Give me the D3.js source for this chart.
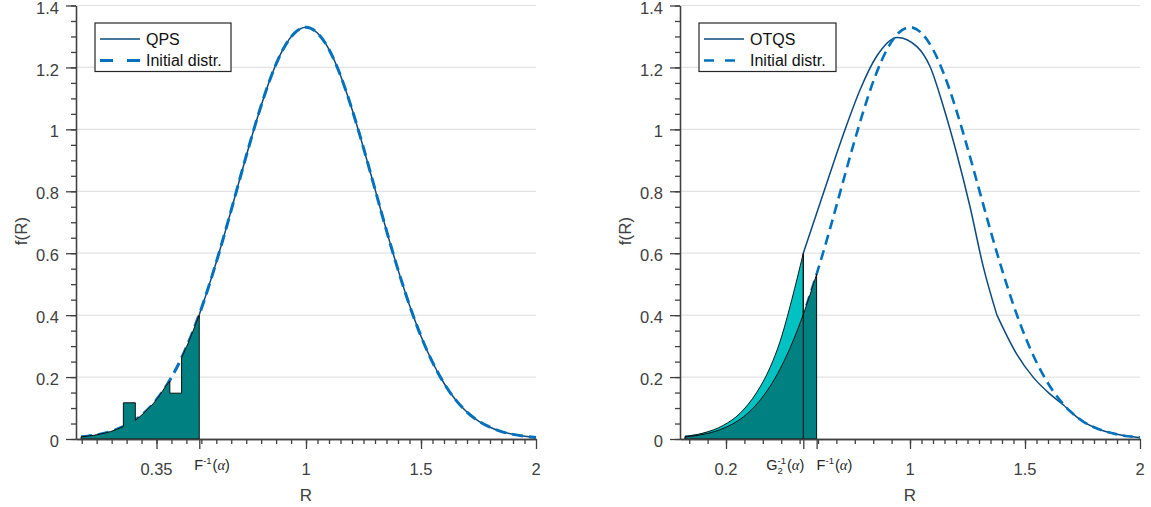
<!DOCTYPE html>
<html>
<head>
<meta charset="utf-8">
<script src="https://cdn.jsdelivr.net/npm/d3@7"></script>
<style>
body { margin: 0; background: #fff; }
svg { display: block; font-family: "Liberation Sans", Arial, Helvetica, sans-serif; }
</style>
</head>
<body>
<div id="chart"></div>
<script>
// initial distribution (dashed curve)
const initR = [0.022,0.05,0.1,0.15,0.2,0.25,0.3,0.35,0.4,0.45,0.5,0.55,0.6,0.65,0.7,0.75,0.8,0.85,0.9,0.95,
               1.0,1.05,1.1,1.15,1.2,1.25,1.3,1.35,1.4,1.45,1.5,1.55,1.6,1.65,1.7,1.75,1.8,1.85,1.9,1.95,2.0];
const initF = [0.007,0.009,0.015,0.024,0.038,0.058,0.087,0.127,0.180,0.248,0.332,0.432,0.547,0.673,0.807,0.940,1.065,1.174,1.258,1.311,
               1.330,1.311,1.258,1.174,1.065,0.940,0.807,0.673,0.547,0.432,0.332,0.248,0.180,0.127,0.087,0.058,0.038,0.024,0.015,0.009,0.005];

// QPS below F^-1(alpha); a repeated R means a vertical jump
const qpsR = [0.022,0.05,0.1,0.15,0.2,0.206, 0.206,0.258, 0.258,0.3,0.35,0.4,0.408, 0.408,0.459, 0.459,0.5,0.536];
const qpsF = [0.007,0.009,0.015,0.024,0.038,0.040, 0.117,0.117, 0.060,0.087,0.127,0.180,0.187, 0.148,0.148, 0.262,0.332,0.402];

// OTQS, left part (up to G2^-1) and right part
const otqsLeftR = [0.022,0.1,0.188,0.261,0.333,0.391,0.435,0.486,0.536];
const otqsLeftF = [0.008,0.019,0.044,0.083,0.150,0.230,0.315,0.450,0.600];
const otqsR = [0.536,0.623,0.717,0.783,0.855,0.945,1.029,1.087,1.145,1.203,1.261,1.319,1.378,
               1.378,1.464,1.536,1.609,1.667,1.7,1.75,1.8,1.85,1.9,1.95,2.0];
const otqsF = [0.600,0.793,0.998,1.128,1.236,1.297,1.268,1.203,1.074,0.922,0.750,0.555,0.400,
               0.400,0.274,0.199,0.145,0.110,0.087,0.058,0.038,0.024,0.015,0.009,0.005];

// quantile markers
const leftFinv = [0.536, 0.402];
const rightG2inv = [0.536, 0.600];
const rightFinv = [0.594, 0.532];

// ticks
const yMajor = [0,0.2,0.4,0.6,0.8,1,1.2,1.4];
const yMinor = d3.range(0, 1.401, 0.05);
const leftMajor = [0.35, 0.536, 1, 1.5, 2];
const leftLabels = ["0.35", "F", "1", "1.5", "2"];
const rightMajor = [0.2, 0.536, 0.594, 1, 1.5, 2];
const rightLabels = ["0.2", "G2", "F", "1", "1.5", "2"];
const leftMinor = [0.025,0.09,0.155,0.22,0.285,0.35,0.415,0.48,0.545,0.61,0.675,0.74,0.805,0.87,0.935,1.0].concat(d3.range(1.05,2.0,0.05));
const rightMinor = [0.04,0.12,0.2,0.28,0.36,0.44,0.52,0.6,0.68,0.76,0.84,0.92,1.0].concat(d3.range(1.05,2.0,0.05));

const darkTeal = "#008080", cyan = "#00c2c2";
const solidBlue = "#0a4a7d", dashBlue = "#0072bd";
const axisCol = "#404040";

const W = 1151, H = 507;
const svg = d3.select("#chart").append("svg").attr("width", W).attr("height", H);
svg.append("rect").attr("width", W).attr("height", H).attr("fill", "#fff");

const y = d3.scaleLinear().domain([0, 1.4]).range([439, 5.5]);

function pts(rs, fs) { return rs.map((r, i) => [r, fs[i]]); }
const initPts = pts(initR, initF);

// split into smooth pieces wherever R repeats
function smoothPath(points, x) {
  const segs = [[points[0]]];
  for (let i = 1; i < points.length; i++) {
    if (points[i][0] === points[i-1][0]) segs.push([points[i]]);
    else segs[segs.length-1].push(points[i]);
  }
  const line = d3.line().x(d => x(d[0])).y(d => y(d[1])).curve(d3.curveMonotoneX);
  return segs.map((s, i) => {
    const p = s.length > 1 ? line(s) : "M" + x(s[0][0]) + "," + y(s[0][1]);
    return i === 0 ? p : "L" + p.slice(1);
  }).join("");
}
function areaPath(points, x) {
  const a = points[0][0], b = points[points.length-1][0];
  return smoothPath(points, x) + "L" + x(b) + "," + y(0) + "L" + x(a) + "," + y(0) + "Z";
}

function texLabel(g, x0, base, kind) {
  const t = g.append("text").attr("x", x0).attr("y", base).attr("font-size", 14.5).attr("fill", "#262626");
  if (kind === "F") {
    t.append("tspan").text("F");
    t.append("tspan").attr("font-size", 9.5).attr("dy", -6).text("-1");
    t.append("tspan").attr("dy", 6).attr("dx", 1).text("(");
  } else {
    t.append("tspan").text("G");
    t.append("tspan").attr("font-size", 9.5).attr("dy", -6).text("-1");
    t.append("tspan").attr("font-size", 9.5).attr("dy", 10).attr("dx", -8.4).text("2");
    t.append("tspan").attr("dy", -4).attr("dx", 4).text("(");
  }
  t.append("tspan").attr("font-family", "'Liberation Serif','DejaVu Serif',serif").attr("font-style", "italic").text("α");
  t.append("tspan").text(")");
}

function panel(o) {
  const g = svg.append("g");
  const x = d3.scaleLinear().domain([0, 2]).range([o.x0, o.x0 + 460]);

  g.selectAll(".grid").data(yMajor.slice(1)).join("line")
    .attr("x1", o.x0).attr("x2", o.x0 + 460)
    .attr("y1", d => y(d)).attr("y2", d => y(d))
    .attr("stroke", "#e3e3e3").attr("stroke-width", 1.2);

  g.append("path").attr("d", smoothPath(o.solid, x))
    .attr("fill", "none").attr("stroke", solidBlue).attr("stroke-width", 1.5);
  g.append("path").attr("d", smoothPath(initPts, x))
    .attr("fill", "none").attr("stroke", dashBlue).attr("stroke-width", o.dashW)
    .attr("stroke-dasharray", o.dash);

  o.fills.forEach(f => {
    g.append("path").attr("d", areaPath(f.points, x))
      .attr("fill", f.color).attr("stroke", "#000").attr("stroke-width", 0.9);
  });
  o.vlines.forEach(v => {
    g.append("line").attr("x1", x(v[0])).attr("x2", x(v[0]))
      .attr("y1", y(0)).attr("y2", y(v[1])).attr("stroke", "#000").attr("stroke-width", 0.9);
  });

  // axes
  const xa = g.append("g").attr("transform", `translate(0,${y(0)})`);
  xa.call(d3.axisBottom(x).tickValues(o.minor).tickSize(5).tickSizeOuter(0).tickFormat(""));
  xa.append("g").call(d3.axisBottom(x).tickValues(o.major).tickSize(10).tickSizeOuter(0).tickFormat(""));
  const ya = g.append("g").attr("transform", `translate(${o.x0},0)`);
  ya.call(d3.axisLeft(y).tickValues(yMinor).tickSize(5).tickSizeOuter(0).tickFormat(""));
  ya.append("g").call(d3.axisLeft(y).tickValues(yMajor).tickSize(10).tickSizeOuter(0).tickPadding(7)
    .tickFormat(d => d3.format("~g")(d)));
  g.selectAll(".domain, .tick line").attr("stroke", axisCol).attr("stroke-width", 1.3);
  ya.selectAll("text").attr("font-size", 16.5).attr("fill", axisCol).attr("font-family", null).attr("dy", "0.46em");

  o.major.forEach((v, i) => {
    const lab = o.labels[i];
    if (lab === "F" || lab === "G2") {
      texLabel(g, x(v) + o.texOff[lab], 470, lab === "F" ? "F" : "G");
    } else {
      g.append("text").attr("x", x(v)).attr("y", 475).attr("text-anchor", "middle")
        .attr("font-size", 16.5).attr("fill", axisCol).text(lab);
    }
  });

  g.append("text").attr("x", x(1)).attr("y", 501).attr("text-anchor", "middle")
    .attr("font-size", 17).attr("fill", axisCol).text("R");
  g.append("text").attr("transform", `translate(${o.x0 - 49},231) rotate(-90)`)
    .attr("text-anchor", "middle").attr("font-size", 17).attr("fill", axisCol).text("f(R)");

  // legend
  const lg = g.append("g").attr("transform", `translate(${o.x0 + 19},23)`);
  lg.append("rect").attr("width", o.legW).attr("height", 48.5)
    .attr("fill", "#fff").attr("stroke", "#262626").attr("stroke-width", 1.2);
  lg.append("line").attr("x1", 5).attr("x2", 45).attr("y1", 16).attr("y2", 16)
    .attr("stroke", solidBlue).attr("stroke-width", 1.5);
  lg.append("line").attr("x1", 5).attr("x2", 45).attr("y1", 37.5).attr("y2", 37.5)
    .attr("stroke", dashBlue).attr("stroke-width", o.dashW).attr("stroke-dasharray", o.legDash);
  lg.append("text").attr("x", 51).attr("y", 21.5).attr("font-size", 16).attr("fill", "#111").text(o.name);
  lg.append("text").attr("x", 51).attr("y", 43).attr("font-size", 16).attr("fill", "#111").text("Initial distr.");
}

// left panel: QPS
const qpsPts = pts(qpsR, qpsF);
const qpsTail = [leftFinv].concat(initPts.filter(p => p[0] > leftFinv[0]));
panel({
  x0: 76, name: "QPS", legW: 136, dashW: 3, dash: "11,6", legDash: "13,14",
  solid: qpsTail,
  fills: [{ points: qpsPts, color: darkTeal }],
  vlines: [],
  major: leftMajor, labels: leftLabels, minor: leftMinor,
  texOff: { F: -5 }
});

// right panel: OTQS
const darkRight = initPts.filter(p => p[0] < rightFinv[0]).concat([rightFinv]);
panel({
  x0: 680, name: "OTQS", legW: 137, dashW: 2.6, dash: "10,6", legDash: "10,11",
  solid: pts(otqsR, otqsF),
  fills: [{ points: pts(otqsLeftR, otqsLeftF), color: cyan }, { points: darkRight, color: darkTeal }],
  vlines: [rightG2inv],
  major: rightMajor, labels: rightLabels, minor: rightMinor,
  texOff: { G2: -37, F: 0 }
});
</script>
</body>
</html>
